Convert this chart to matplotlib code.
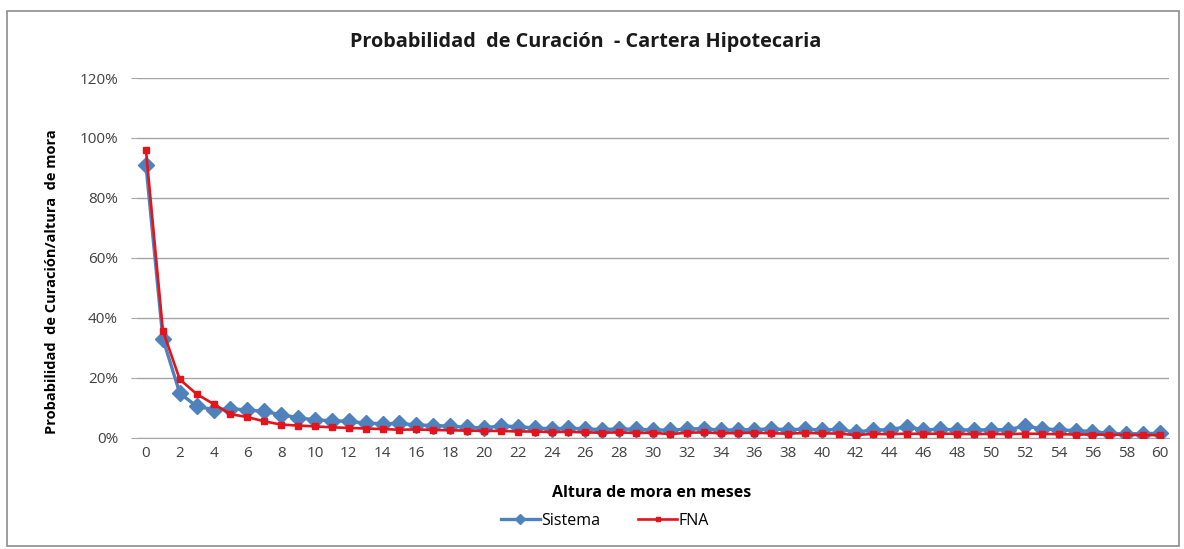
import matplotlib
matplotlib.use("Agg")
import matplotlib.pyplot as plt
from matplotlib.patches import Rectangle
from matplotlib.ticker import FuncFormatter

# Probabilidad de curación por altura de mora (meses 0..60), en %
meses = list(range(61))
sistema = [91.0, 33.0, 14.8, 10.4, 9.3, 9.6, 9.2, 8.7, 7.6, 6.6,
           5.9, 5.6, 5.4, 4.8, 4.6, 4.7, 4.2, 4.0, 3.8, 3.4,
           3.2, 3.9, 3.6, 3.2, 2.9, 3.1, 2.9, 2.6, 2.9, 2.7,
           2.6, 2.4, 2.8, 3.0, 2.4, 2.6, 2.6, 2.9, 2.6, 2.8,
           2.5, 2.7, 1.8, 2.5, 2.6, 3.6, 2.6, 2.7, 2.6, 2.5,
           2.6, 2.6, 3.8, 2.9, 2.6, 2.3, 2.0, 1.4, 1.2, 1.3,
           1.4]
fna = [96.0, 35.7, 19.4, 14.5, 11.2, 7.8, 6.8, 5.4, 4.3, 4.0,
       3.7, 3.4, 3.2, 3.0, 2.8, 2.6, 2.7, 2.5, 2.4, 2.3,
       2.2, 2.2, 2.0, 2.0, 1.8, 1.9, 1.7, 1.6, 1.7, 1.5,
       1.6, 1.1, 1.6, 1.7, 1.4, 1.5, 1.6, 1.4, 1.3, 1.5,
       1.4, 1.3, 0.8, 1.2, 1.1, 1.3, 1.2, 1.3, 1.2, 1.1,
       1.2, 1.1, 1.3, 1.2, 1.1, 1.0, 1.0, 0.9, 0.9, 0.8,
       0.8]
y_ticks = [0, 20, 40, 60, 80, 100, 120]
x_ticks = list(range(0, 61, 2))

plt.rcParams["font.family"] = ["Open Sans", "DejaVu Sans"]

fig = plt.figure(figsize=(11.84, 5.49), dpi=100)
fig.patches.append(Rectangle((7 / 1184, 3 / 549), 1172 / 1184, 535 / 549,
                             transform=fig.transFigure, fill=False,
                             edgecolor="#8c8c8c", linewidth=1.2))

ax = fig.add_axes([137.5 / 1184, 1 - 437.5 / 549, 1031 / 1184, 359.5 / 549])

ax.plot(meses, sistema, color="#4F81BD", linewidth=2.4, marker="D",
        markersize=8, markeredgecolor="#4F81BD", label="Sistema", zorder=3)
ax.plot(meses, fna, color="#E3141B", linewidth=1.9, marker="s",
        markersize=4.5, markeredgecolor="#E3141B", label="FNA", zorder=4)

ax.set_xlim(-0.5, 60.5)
ax.set_ylim(0, 120)
ax.set_yticks(y_ticks)
ax.yaxis.set_major_formatter(FuncFormatter(lambda v, _: f"{v:.0f}%"))
ax.set_xticks(x_ticks)
ax.grid(axis="y", color="#a6a6a6", linewidth=1.0)
ax.set_axisbelow(True)
for side in ["top", "right", "left"]:
    ax.spines[side].set_visible(False)
ax.spines["bottom"].set_color("#a6a6a6")
ax.tick_params(axis="y", length=5, color="#a6a6a6", labelsize=11, labelcolor="#404040", pad=9)
ax.tick_params(axis="x", length=0, labelsize=11, labelcolor="#404040", pad=6)

ax.set_ylabel("Probabilidad  de Curación/altura  de mora", fontsize=10.5,
              fontweight="bold")
ax.yaxis.set_label_coords(52 / 1184, 1 - 282 / 549, transform=fig.transFigure)
ax.set_xlabel("Altura de mora en meses", fontsize=11.5, fontweight="bold")
ax.xaxis.set_label_coords(652 / 1184, 1 - 493 / 549, transform=fig.transFigure)
ax.xaxis.label.set_va("center")
ax.yaxis.label.set_va("center")
fig.text(586 / 1184, 1 - 42 / 549, "Probabilidad  de Curación  - Cartera Hipotecaria",
         ha="center", va="center", fontsize=14.3, fontweight="bold", color="#1a1a1a")

ax.legend(loc="center", bbox_to_anchor=(605 / 1184, 1 - 521 / 549),
          bbox_transform=fig.transFigure, ncol=2, frameon=False, fontsize=11.5,
          handlelength=2.4, handletextpad=0.1, columnspacing=2.4, markerscale=0.6)

fig.savefig("out.png", dpi=100)
